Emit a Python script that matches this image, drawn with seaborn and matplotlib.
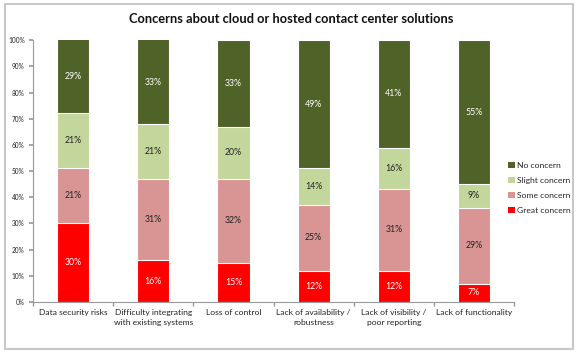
import matplotlib
matplotlib.use("Agg")
import matplotlib.pyplot as plt
import seaborn as sns
import numpy as np
from matplotlib.patches import Rectangle, Patch
from matplotlib.ticker import FuncFormatter, FixedLocator

categories = ["Data security risks", "Difficulty integrating\nwith existing systems", "Loss of control",
              "Lack of availability /\nrobustness", "Lack of visibility /\npoor reporting", "Lack of functionality"]
great_concern = [30, 16, 15, 12, 12, 7]
some_concern = [21, 31, 32, 25, 31, 29]
slight_concern = [21, 21, 20, 14, 16, 9]
no_concern = [29, 33, 33, 49, 41, 55]
series_names = ["Great concern", "Some concern", "Slight concern", "No concern"]
colors = ["#ff0000", "#d99594", "#c3d69b", "#4f6228"]
label_colors = ["white", "#222222", "#222222", "white"]

sns.set_theme(style="white")
plt.rcParams['font.family'] = ['Lato', 'DejaVu Sans']

fig = plt.figure(figsize=(5.79, 3.52), dpi=100)
ax = fig.add_axes([0.057, 0.142, 0.831, 0.744])

series = [great_concern, some_concern, slight_concern, no_concern]
cum = np.cumsum(np.array(series, dtype=float), axis=0)
# draw from top to bottom so lower segments overlay
for i in range(len(series) - 1, -1, -1):
    sns.barplot(x=list(range(len(categories))), y=cum[i], color=colors[i], width=0.4,
                edgecolor="white", linewidth=0.8, saturation=1, ax=ax)

for i, vals in enumerate(series):
    for j, v in enumerate(vals):
        bottom = cum[i][j] - v
        top = min(cum[i][j], 100)
        ax.text(j, (bottom + top) / 2, f"{v}%", ha="center", va="center",
                fontsize=6.3, color=label_colors[i])

ax.set_ylim(0, 100)
ax.set_xlim(-0.5, len(categories) - 0.5)
ax.yaxis.set_major_locator(FixedLocator(np.arange(0, 101, 10)))
ax.yaxis.set_major_formatter(FuncFormatter(lambda v, p: f"{int(v)}%"))
ax.set_xticks(range(len(categories)))
ax.set_xticklabels(categories, fontsize=6.1, color="#222222", linespacing=1.5)
ax.xaxis.set_minor_locator(FixedLocator(np.arange(-0.5, len(categories), 1)))
ax.tick_params(axis="x", which="major", length=0, pad=5)
ax.tick_params(axis="x", which="minor", length=3, color="#999999", direction="out", bottom=True)
ax.tick_params(axis="y", labelsize=4.7, length=3, color="#999999", direction="out", left=True, labelcolor="#222222", pad=3)
for s in ["top", "right"]:
    ax.spines[s].set_visible(False)
for s in ["left", "bottom"]:
    ax.spines[s].set_color("#999999")
    ax.spines[s].set_linewidth(0.8)
ax.set_xlabel("")
ax.set_ylabel("")

fig.text(0.503, 0.946, "Concerns about cloud or hosted contact center solutions",
         ha="center", va="center", fontsize=9.3, fontweight="bold", color="#111111")

handles = [Patch(facecolor=colors[i], edgecolor="none", label=series_names[i]) for i in range(3, -1, -1)]
fig.legend(handles=handles, loc="center left", bbox_to_anchor=(0.872, 0.466), frameon=False,
           fontsize=6.1, handlelength=0.75, handleheight=0.75, handletextpad=0.3, labelspacing=0.95,
           borderaxespad=0)

fig.patches.append(Rectangle((5 / 579, 3 / 352), 568 / 579, 345 / 352, transform=fig.transFigure,
                             fill=False, edgecolor="#c8c8c8", linewidth=1.5))

fig.savefig("out.png", dpi=100)
